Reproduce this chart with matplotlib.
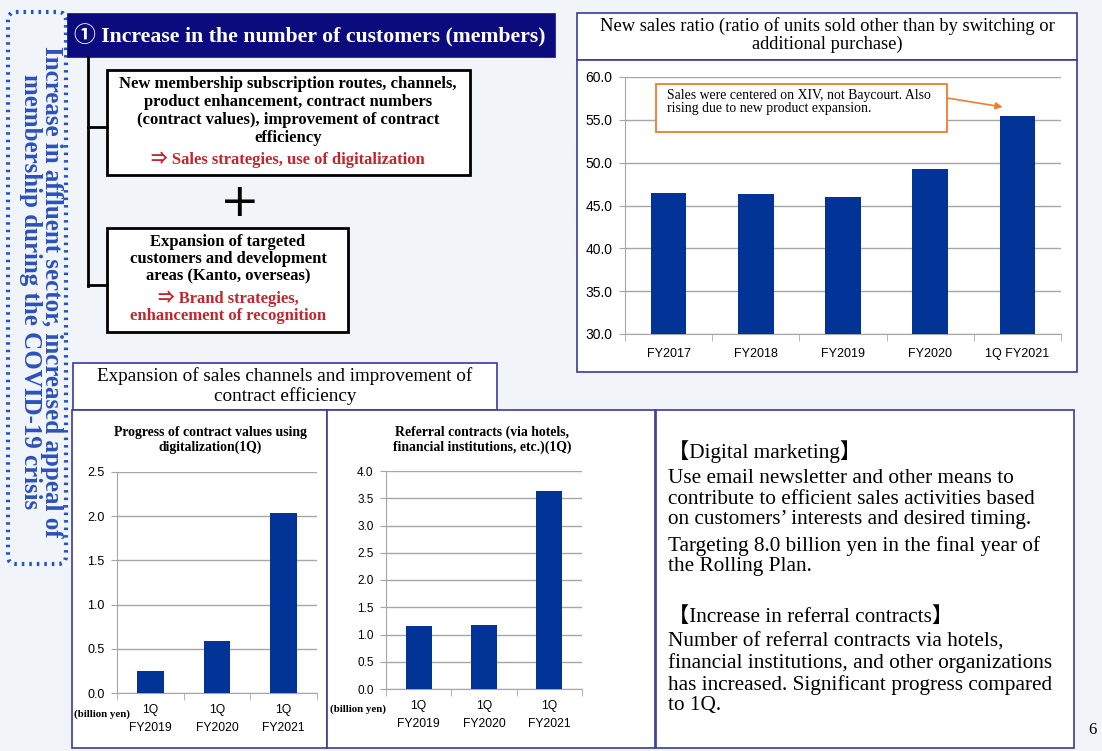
import numpy as np
import matplotlib.pyplot as plt
from matplotlib.patches import Rectangle, FancyBboxPatch
from matplotlib.ticker import FormatStrFormatter

W, H = 1102, 751

ratio_labels = ['FY2017', 'FY2018', 'FY2019', 'FY2020', '1Q FY2021']
ratio_values = [46.5, 46.3, 46.0, 49.3, 55.5]

digital_labels = ['1Q\nFY2019', '1Q\nFY2020', '1Q\nFY2021']
digital_values = [0.25, 0.59, 2.04]

referral_labels = ['1Q\nFY2019', '1Q\nFY2020', '1Q\nFY2021']
referral_values = [1.15, 1.18, 3.64]

SERIF = ['Liberation Serif', 'Noto Sans CJK JP', 'DejaVu Sans']
SANS = ['Liberation Sans', 'DejaVu Sans']
NAVY = '#0b0b7e'
FRAME = '#3a3a9a'
BAR = '#023396'
RED = '#c0272d'
GRID = '#a6a6a6'
BG = '#f1f5fa'

fig = plt.figure(figsize=(W / 100, H / 100), dpi=100, facecolor=BG)
bg = fig.add_axes([0, 0, 1, 1])
bg.set_xlim(0, W)
bg.set_ylim(H, 0)
bg.axis('off')


def box(x0, y0, x1, y1, ec, lw=1.2, fc='white'):
    bg.add_patch(Rectangle((x0, y0), x1 - x0, y1 - y0, fc=fc, ec=ec, lw=lw))


def px_axes(x0, y0, x1, y1):
    return fig.add_axes([x0 / W, 1 - y1 / H, (x1 - x0) / W, (y1 - y0) / H])


def bar_chart(ax, labels, values, ymax, step, width, xsize, ysize, xpad, ls):
    n = len(values)
    ax.set_facecolor('none')
    ax.bar(range(n), values, width=width, color=BAR, zorder=3)
    ax.set_xlim(-0.5, n - 0.5)
    ax.set_yticks(np.arange(ax.get_ylim()[0], ymax + step / 2, step))
    ax.set_ylim(top=ymax)
    ax.yaxis.set_major_formatter(FormatStrFormatter('%.1f'))
    ax.set_xticks(range(n))
    ax.set_xticklabels(labels, family=SANS, fontsize=xsize, linespacing=ls)
    ax.set_xticks(np.arange(-0.5, n), minor=True)
    ax.grid(axis='y', color=GRID, lw=1)
    ax.set_axisbelow(True)
    for s in ['top', 'right']:
        ax.spines[s].set_visible(False)
    for s in ['left', 'bottom']:
        ax.spines[s].set_color(GRID)
    ax.tick_params(axis='y', length=4, color=GRID, labelsize=ysize, pad=5)
    ax.tick_params(axis='x', which='major', length=0, pad=xpad)
    ax.tick_params(axis='x', which='minor', length=5, color=GRID)
    for t in ax.get_yticklabels():
        t.set_family(SANS)


# dotted side banner
bg.add_patch(FancyBboxPatch((8, 12), 58, 552, boxstyle='round,pad=0,rounding_size=8',
                            fc='none', ec='#2553c4', lw=3, ls=(0, (0.6, 1.2))))
bg.text(41, 292, 'Increase in affluent sector, increased appeal of\n'
        'membership during the COVID-19 crisis',
        rotation=-90, ha='center', va='center', multialignment='center',
        family=SERIF, fontsize=18, fontweight='bold', color='#2b52b8', linespacing=0.87)

# heading bar and tree
box(68, 14, 555, 57, ec=NAVY, fc=NAVY)
bg.text(74, 36, '① Increase in the number of customers (members)', ha='left', va='center',
        family=SERIF, fontsize=15.7, fontweight='bold', color='white')
bg.plot([88, 88], [57, 286], color='black', lw=2)
bg.plot([88, 107], [127, 127], color='black', lw=2)
bg.plot([88, 107], [285, 285], color='black', lw=2)

box(107, 70, 470, 175, ec='black', lw=2)
bg.text(288, 111, 'New membership subscription routes, channels,\nproduct enhancement, contract numbers\n'
        '(contract values), improvement of contract\nefficiency',
        ha='center', va='center', family=SERIF, fontsize=12, fontweight='bold', linespacing=1.15)
bg.text(288, 160, '⇒ Sales strategies, use of digitalization', ha='center', va='center',
        family=SERIF, fontsize=12, fontweight='bold', color=RED)

bg.text(240, 203, '+', ha='center', va='center', family='DejaVu Sans', fontsize=34)

box(107, 228, 348, 332, ec='black', lw=2)
bg.text(228, 259, 'Expansion of targeted\ncustomers and development\nareas (Kanto, overseas)',
        ha='center', va='center', family=SERIF, fontsize=12, fontweight='bold', linespacing=1.12)
bg.text(228, 307, '⇒ Brand strategies,\nenhancement of recognition', ha='center', va='center',
        family=SERIF, fontsize=12, fontweight='bold', color=RED, linespacing=1.12)

# new sales ratio panel
box(577, 13, 1077, 60, ec=FRAME)
bg.text(827, 35, 'New sales ratio (ratio of units sold other than by switching or\nadditional purchase)',
        ha='center', va='center', family=SERIF, fontsize=13.3, linespacing=1.0)
box(577, 60, 1077, 372, ec=FRAME)

ax1 = px_axes(625, 77, 1061, 334)
ax1.set_ylim(30, 60)
bar_chart(ax1, ratio_labels, ratio_values, 60, 5, 0.41, 9, 10, 10, 1.2)
ax1.add_patch(Rectangle((656, 84), 291, 48, transform=bg.transData, fc='white',
                        ec='#ed7d31', lw=1.3, clip_on=False, zorder=5))
ax1.text(667, 102, 'Sales were centered on XIV, not Baycourt. Also\nrising due to new product expansion.',
         transform=bg.transData, ha='left', va='center', family=SERIF, fontsize=9.9,
         linespacing=0.95, zorder=6)
ax1.annotate('', xy=(3.83, 56.5), xycoords='data', xytext=(947, 98), textcoords=bg.transData,
             arrowprops=dict(arrowstyle='-|>', color='#ed7d31', lw=1.2, mutation_scale=10,
                             shrinkA=0, shrinkB=0), zorder=6)

# sales channel panels
box(73, 363, 497, 410, ec=FRAME)
bg.text(285, 386, 'Expansion of sales channels and improvement of\ncontract efficiency',
        ha='center', va='center', family=SERIF, fontsize=13.8, linespacing=1.1)
box(72, 410, 327, 748, ec=FRAME)
box(327, 410, 655, 748, ec=FRAME)
box(656, 410, 1074, 748, ec=FRAME)

bg.text(210, 440, 'Progress of contract values using\ndigitalization(1Q)', ha='center', va='center',
        family=SERIF, fontsize=9.9, fontweight='bold', linespacing=1.1)
ax2 = px_axes(117, 472, 317, 693)
ax2.set_ylim(0, 2.5)
bar_chart(ax2, digital_labels, digital_values, 2.5, 0.5, 0.4, 8.7, 9, 8, 1.63)
bg.text(102, 714, '(billion yen)', ha='center', va='center', family=SERIF, fontsize=7.8,
        fontweight='bold', zorder=10)

bg.text(482, 440, 'Referral contracts (via hotels,\nfinancial institutions, etc.)(1Q)', ha='center',
        va='center', family=SERIF, fontsize=9.9, fontweight='bold', linespacing=1.1)
ax3 = px_axes(386, 471, 582, 689)
ax3.set_ylim(0, 4.0)
bar_chart(ax3, referral_labels, referral_values, 4.0, 0.5, 0.4, 8.7, 8.5, 8, 1.63)
bg.text(358, 709, '(billion yen)', ha='center', va='center', family=SERIF, fontsize=7.8,
        fontweight='bold', zorder=10)

# notes
notes = [
    (452, '【Digital marketing】'),
    (499, 'Use email newsletter and other means to\ncontribute to efficient sales activities based\n'
          'on customers’ interests and desired timing.'),
    (556, 'Targeting 8.0 billion yen in the final year of\nthe Rolling Plan.'),
    (617, '【Increase in referral contracts】'),
    (674, 'Number of referral contracts via hotels,\nfinancial institutions, and other organizations\n'
          'has increased. Significant progress compared\nto 1Q.'),
]
for y, s in notes:
    bg.text(668, y, s, ha='left', va='center', family=SERIF, fontsize=15.3, linespacing=1.1)

bg.text(1092, 730, '6', ha='center', va='center', family=SERIF, fontsize=12)

fig.savefig('out.png', dpi=100, facecolor=BG)
